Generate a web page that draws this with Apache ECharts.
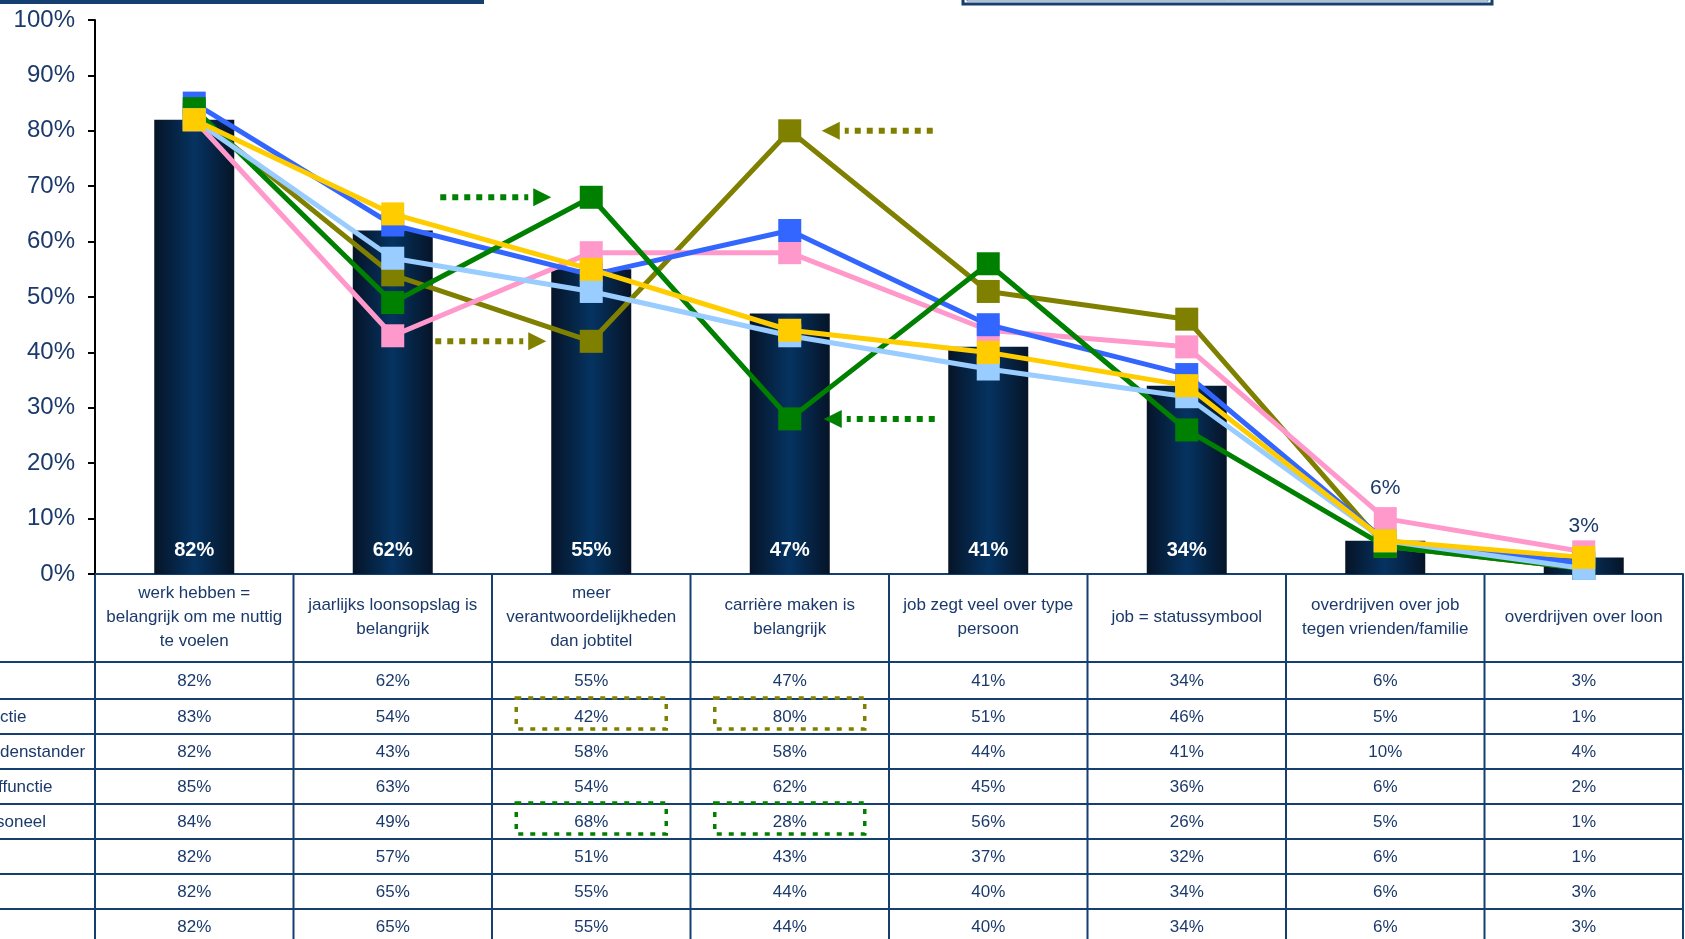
<!DOCTYPE html>
<html lang="nl">
<head>
    <meta charset="UTF-8">
    <title>Belang van werk</title>
    <script src="https://cdn.jsdelivr.net/npm/echarts@6/dist/echarts.min.js"></script>
    <style>
        html, body { margin: 0; padding: 0; background: #fff; }
        #chart { width: 1685px; height: 939px; }
    </style>
</head>
<body>
    <div id="chart"></div>
    <script>
        // categorieen (kolomkoppen van de tabel)
        var categories = [
            'werk hebben =\nbelangrijk om me nuttig\nte voelen',
            'jaarlijks loonsopslag is\nbelangrijk',
            'meer\nverantwoordelijkheden\ndan jobtitel',
            'carrière maken is\nbelangrijk',
            'job zegt veel over type\npersoon',
            'job = statussymbool',
            'overdrijven over job\ntegen vrienden/familie',
            'overdrijven over loon'
        ];

        // waarden in %
        var totaal     = [82, 62, 55, 47, 41, 34, 6, 3];
        var olijf      = [83, 54, 42, 80, 51, 46, 5, 1];
        var roze       = [82, 43, 58, 58, 44, 41, 10, 4];
        var blauw      = [85, 63, 54, 62, 45, 36, 6, 2];
        var groen      = [84, 49, 68, 28, 56, 26, 5, 1];
        var lichtblauw = [82, 57, 51, 43, 37, 32, 6, 1];
        var geel       = [82, 65, 55, 44, 40, 34, 6, 3];
        var laatsteRij = [82, 65, 55, 44, 40, 34, 6, 3];

        // zichtbare stukjes van de rijlabels (links afgesneden)
        var rowLabels = ['', 'ctie', 'denstander', 'ffunctie', 'soneel', '', '', ''];

        var tableRows = [totaal, olijf, roze, blauw, groen, lichtblauw, geel, laatsteRij];

        var textBlue = '#1b3a6b';
        var tableLine = '#143f70';
        var font = '"Liberation Sans", Arial, sans-serif';

        var lines = [
            { name: 'olijf', data: olijf, color: '#808000' },
            { name: 'roze', data: roze, color: '#ff99cc' },
            { name: 'blauw', data: blauw, color: '#3366ff' },
            { name: 'groen', data: groen, color: '#008000' },
            { name: 'lichtblauw', data: lichtblauw, color: '#99ccff' },
            { name: 'geel', data: geel, color: '#ffcc00' }
        ];

        var chart = echarts.init(document.getElementById('chart'));

        var barGradient = new echarts.graphic.LinearGradient(0, 0, 1, 0, [
            { offset: 0, color: '#061427' },
            { offset: 0.48, color: '#05325f' },
            { offset: 0.52, color: '#05325f' },
            { offset: 1, color: '#061427' }
        ]);

        // kleine balken krijgen hun label boven de hoogste lijn
        var barData = totaal.map(function (v, i) {
            if (v >= 10) return v;
            var top = Math.max.apply(null, lines.map(function (l) { return l.data[i]; }));
            return {
                value: v,
                label: {
                    position: 'top',
                    distance: (top - v) * 7 + 14,
                    color: textBlue,
                    fontWeight: 'normal',
                    fontSize: 21
                }
            };
        });

        var series = [{
            type: 'bar',
            data: barData,
            barWidth: 80,
            z: 2,
            itemStyle: { color: barGradient },
            label: {
                show: true,
                position: 'insideBottom',
                distance: 14,
                formatter: '{c}%',
                color: '#fff',
                fontWeight: 'bold',
                fontSize: 20,
                fontFamily: font
            }
        }];

        lines.forEach(function (l, k) {
            series.push({
                type: 'line',
                name: l.name,
                data: l.data,
                z: 3 + k,
                symbol: 'rect',
                symbolSize: 23,
                lineStyle: { color: l.color, width: 5 },
                itemStyle: { color: l.color },
                emphasis: { disabled: true }
            });
        });

        chart.setOption({
            animation: false,
            grid: { left: 95, right: 2, top: 20, bottom: 365 },
            xAxis: {
                type: 'category',
                data: categories,
                axisLine: { lineStyle: { color: tableLine, width: 2 } },
                axisTick: { show: false },
                axisLabel: {
                    interval: 0,
                    margin: 43,
                    verticalAlign: 'middle',
                    color: textBlue,
                    fontSize: 17,
                    lineHeight: 24,
                    fontFamily: font
                }
            },
            yAxis: {
                type: 'value',
                min: 0,
                max: 100,
                interval: 10,
                splitLine: { show: false },
                axisLine: { show: true, lineStyle: { color: '#000', width: 2 } },
                axisTick: { show: true, length: 7, lineStyle: { color: '#000', width: 2 } },
                axisLabel: {
                    formatter: '{value}%',
                    margin: 20,
                    color: textBlue,
                    fontSize: 24,
                    fontFamily: font
                }
            },
            series: series
        });

        // tabel, pijlen en kaders
        var colX = categories.map(function (c, i) {
            return chart.convertToPixel({ xAxisIndex: 0 }, i);
        });
        var band = colX[1] - colX[0];
        var tableTop = chart.convertToPixel({ yAxisIndex: 0 }, 0);
        var headerBottom = tableTop + 88;
        var rowTop = [headerBottom];
        for (var r = 0; r < tableRows.length; r++) {
            rowTop.push(rowTop[r] + (r === 0 ? 37 : 35));
        }
        var right = colX[colX.length - 1] + band / 2;

        var graphics = [];
        // bovenste decoraties (rand van titel en legende)
        graphics.push({ type: 'rect', shape: { x: 0, y: 0, width: 484, height: 4 }, style: { fill: tableLine } });
        graphics.push({ type: 'rect', shape: { x: 963, y: -30, width: 529, height: 34 }, style: { fill: 'none', stroke: tableLine, lineWidth: 3 } });
        graphics.push({ type: 'rect', shape: { x: 967, y: -30, width: 521, height: 31 }, style: { fill: 'none', stroke: '#5f7fa8', lineWidth: 1 } });

        // horizontale lijnen
        rowTop.forEach(function (y) {
            graphics.push({ type: 'line', shape: { x1: 0, y1: y, x2: right, y2: y }, style: { stroke: tableLine, lineWidth: 2 } });
        });
        // verticale lijnen
        for (var c = 0; c <= colX.length; c++) {
            var x = colX[0] - band / 2 + c * band;
            graphics.push({ type: 'line', shape: { x1: x, y1: tableTop, x2: x, y2: 939 }, style: { stroke: tableLine, lineWidth: 2 } });
        }
        // waarden
        tableRows.forEach(function (row, r) {
            var yMid = (rowTop[r] + rowTop[r + 1]) / 2 + 1;
            row.forEach(function (v, i) {
                graphics.push({
                    type: 'text', x: colX[i], y: yMid,
                    style: { text: v + '%', fill: textBlue, font: '17px ' + font, align: 'center', verticalAlign: 'middle' }
                });
            });
            if (rowLabels[r]) {
                graphics.push({
                    type: 'text', x: r === 3 ? -2 : (r === 4 ? -4 : 0), y: yMid,
                    style: { text: rowLabels[r], fill: textBlue, font: '17px ' + font, align: 'left', verticalAlign: 'middle' }
                });
            }
        });

        // gestippelde kaders rond opvallende cellen
        var boxes = [
            { row: 1, col: 2, color: '#808000' },
            { row: 1, col: 3, color: '#808000' },
            { row: 4, col: 2, color: '#008000' },
            { row: 4, col: 3, color: '#008000' }
        ];
        boxes.forEach(function (b) {
            graphics.push({
                type: 'rect',
                z: 100,
                shape: { x: colX[b.col] - 75, y: rowTop[b.row] - 1, width: 150, height: rowTop[b.row + 1] - rowTop[b.row] - 4 },
                style: { fill: 'none', stroke: b.color, lineWidth: 3.5, lineDash: [5, 7] }
            });
        });

        // gestippelde pijlen naar de afwijkende punten
        var arrows = [
            { line: 3, cat: 2, dir: 1, gap: 40 },
            { line: 0, cat: 2, dir: 1, gap: 45 },
            { line: 0, cat: 3, dir: -1, gap: 32 },
            { line: 3, cat: 3, dir: -1, gap: 34 }
        ];
        arrows.forEach(function (a) {
            var p = chart.convertToPixel({ seriesIndex: a.line + 1 }, [a.cat, lines[a.line].data[a.cat]]);
            var tip = p[0] - a.dir * a.gap;
            var base = tip - a.dir * 18;
            var shaftEnd = base - a.dir * 5;
            var tail = shaftEnd - a.dir * 88;
            var color = lines[a.line].color;
            graphics.push({
                type: 'line', z: 100,
                shape: { x1: tail, y1: p[1], x2: shaftEnd, y2: p[1] },
                style: { stroke: color, lineWidth: 6, lineDash: [6, 6] }
            });
            graphics.push({
                type: 'polygon', z: 100,
                shape: { points: [[tip, p[1]], [base, p[1] - 9], [base, p[1] + 9]] },
                style: { fill: color }
            });
        });

        chart.setOption({ graphic: graphics });
    </script>
</body>
</html>
